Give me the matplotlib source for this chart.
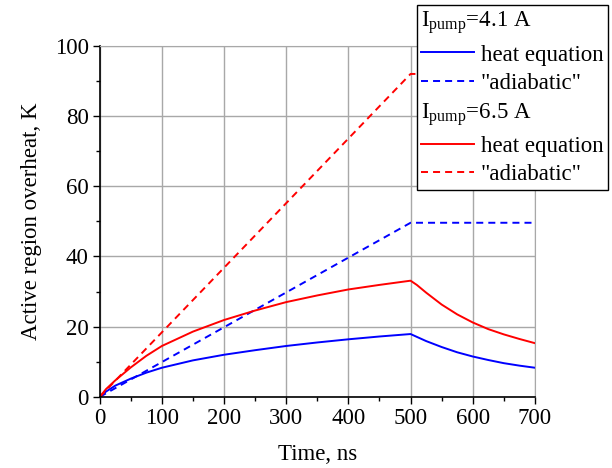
import numpy as np
import matplotlib
matplotlib.use("Agg")
import matplotlib.pyplot as plt
from matplotlib.lines import Line2D
from matplotlib.ticker import MultipleLocator

plt.rcParams['font.family'] = ['Liberation Serif', 'DejaVu Serif']
plt.rcParams['mathtext.fontset'] = 'custom'
plt.rcParams['mathtext.rm'] = 'Liberation Serif'
fs = 16.5

# heat equation curves
t_heat = [0, 10, 25, 50, 75, 100, 150, 200, 250, 300, 350, 400, 450, 500,
          510, 525, 550, 575, 600, 625, 650, 675, 700]
heat_41 = [0, 1.5, 3.2, 5.2, 6.9, 8.3, 10.4, 12.0, 13.3, 14.5, 15.5, 16.4, 17.2, 17.9,
           17.1, 15.9, 14.2, 12.7, 11.5, 10.5, 9.6, 8.9, 8.3]
heat_65 = [0, 2.2, 4.7, 8.4, 11.7, 14.5, 18.6, 21.9, 24.6, 27.0, 28.9, 30.6, 31.9, 33.1,
           31.9, 29.7, 26.3, 23.5, 21.2, 19.3, 17.8, 16.5, 15.3]

# "adiabatic" estimates
t_adi = [0, 500, 700]
adi_41 = [0, 49.6, 49.6]
adi_65 = [0, 92.0, 92.0]

fig = plt.figure(figsize=(6.12, 4.68), dpi=100)
ax = fig.add_axes([0.163, 0.152, 0.711, 0.750])

lw = 1.4
dash = (3.6, 2.6)
l1, = ax.plot(t_heat, heat_41, color='#0000ff', lw=lw, label='heat equation')
l2, = ax.plot(t_adi, adi_41, color='#0000ff', lw=lw, ls='--', dashes=dash, label='"adiabatic"')
l3, = ax.plot(t_heat, heat_65, color='#ff0000', lw=lw, label='heat equation')
l4, = ax.plot(t_adi, adi_65, color='#ff0000', lw=lw, ls='--', dashes=dash, label='"adiabatic"')

ax.set_xlim(0, 700)
ax.set_ylim(0, 100)
ax.xaxis.set_major_locator(MultipleLocator(100))
ax.xaxis.set_minor_locator(MultipleLocator(50))
ax.yaxis.set_major_locator(MultipleLocator(20))
ax.yaxis.set_minor_locator(MultipleLocator(10))
ax.tick_params(which='major', direction='out', length=5, width=1, colors='black', labelsize=fs, pad=3)
ax.tick_params(which='minor', direction='out', length=3, width=1)
ax.grid(True, which='major', color='#a8a8a8', lw=1)
for s in ['top', 'right']:
    ax.spines[s].set_color('#a8a8a8')
for s in ['left', 'bottom']:
    ax.spines[s].set_linewidth(1.2)

ax.set_xlabel('Time, ns', fontsize=fs, labelpad=11)
ax.set_ylabel('Active region overheat, K', fontsize=fs, labelpad=9)

h1 = Line2D([], [], lw=0)
h2 = Line2D([], [], lw=0)
handles = [h1, l1, l2, h2, l3, l4]
labels = [r'I$_{\mathrm{pump}}$=4.1 A', 'heat equation', '"adiabatic"',
          r'I$_{\mathrm{pump}}$=6.5 A', 'heat equation', '"adiabatic"']
leg = fig.legend(handles, labels, loc='upper left', bbox_to_anchor=(0.681, 0.989),
                 fontsize=fs, frameon=True, fancybox=False, edgecolor='black',
                 framealpha=1, handlelength=2.3, handletextpad=0.3,
                 borderpad=0.2, labelspacing=0.32, borderaxespad=0)
leg.get_frame().set_linewidth(1)

# header rows: drop the empty handle so the text starts at the left edge
col = leg._legend_handle_box.get_children()[0]
rows = col.get_children()
for i in (0, 3):
    row = rows[i]
    row._children = [row._children[1]]

fig.savefig('out.png', dpi=100)
